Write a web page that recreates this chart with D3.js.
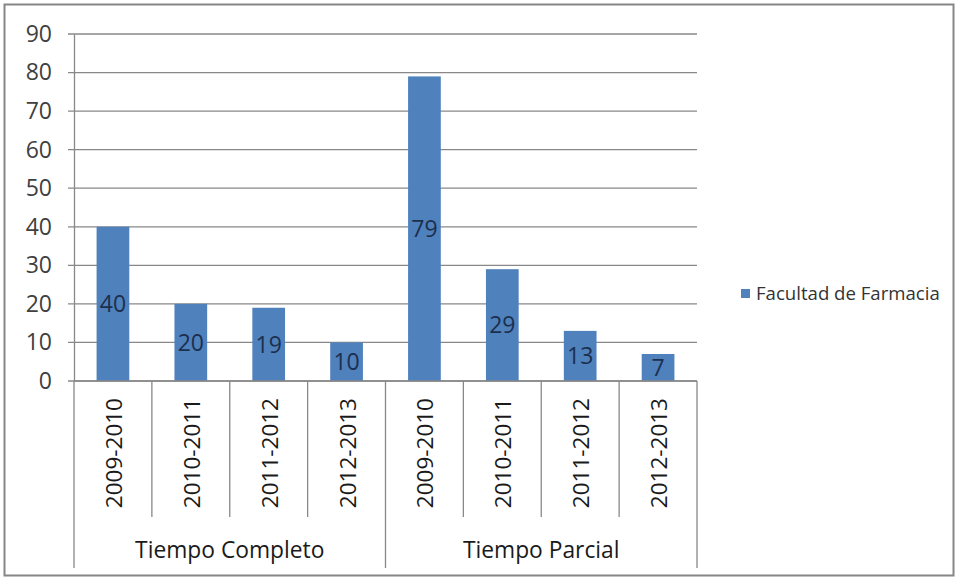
<!DOCTYPE html>
<html>
<head>
<meta charset="utf-8">
<script src="https://cdn.jsdelivr.net/npm/d3@7/dist/d3.min.js"></script>
<style>
body{margin:0;background:#fff;}
svg{display:block;}
text{font-family:"Open Sans",sans-serif;}
</style>
</head>
<body>
<svg id="chart" width="958" height="580"></svg>
<script>
const groups = ["Tiempo Completo", "Tiempo Parcial"];
const periods = ["2009-2010", "2010-2011", "2011-2012", "2012-2013"];
const values = [40, 20, 19, 10, 79, 29, 13, 7];
const yTicks = [0, 10, 20, 30, 40, 50, 60, 70, 80, 90];
const seriesName = "Facultad de Farmacia";

const keys = [];
groups.forEach((g, gi) => periods.forEach((p, pi) => keys.push(gi + "|" + p)));

const svg = d3.select("#chart");
const W = 958, H = 580;
const plotL = 74, plotR = 697, plotT = 34, plotB = 381;
const barColor = "#4f81bd";

svg.append("rect").attr("x", 4.5).attr("y", 4.5).attr("width", W - 9).attr("height", H - 9)
  .attr("fill", "#fff").attr("stroke", "#868686").attr("stroke-width", 2);

const x = d3.scaleBand().domain(keys).range([plotL, plotR]).paddingInner(0.58).paddingOuter(0.29);
const xSlot = d3.scaleBand().domain(keys).range([plotL, plotR]);
const y = d3.scaleLinear().domain([0, 90]).range([plotB, plotT]);

// gridlines
svg.append("g").selectAll("line").data(yTicks).join("line")
  .attr("x1", plotL - 6).attr("x2", plotR)
  .attr("y1", d => y(d)).attr("y2", d => y(d))
  .attr("stroke", "#888").attr("stroke-width", 1.3);

// y axis
const yAxis = d3.axisLeft(y).tickValues(yTicks).tickSize(0).tickPadding(22);
const ya = svg.append("g").attr("transform", `translate(${plotL},0)`).call(yAxis);
ya.select(".domain").attr("stroke", "#888").attr("stroke-width", 1.3);
ya.selectAll("text").attr("font-size", 23).attr("fill", "#404040").attr("font-family", "Open Sans");

// bars
svg.append("g").selectAll("rect").data(values).join("rect")
  .attr("x", (d, i) => x(keys[i])).attr("width", x.bandwidth())
  .attr("y", d => y(d)).attr("height", d => y(0) - y(d))
  .attr("fill", barColor);

// data labels
svg.append("g").selectAll("text").data(values).join("text")
  .attr("x", (d, i) => x(keys[i]) + x.bandwidth() / 2)
  .attr("y", d => (y(d) + y(0)) / 2)
  .attr("dy", "0.36em").attr("text-anchor", "middle")
  .attr("font-size", 23).attr("fill", "#1c2f4d")
  .text(d => d);

// category separators
const sepG = svg.append("g").attr("stroke", "#888").attr("stroke-width", 1.3);
keys.forEach((k, i) => {
  const xp = xSlot(k);
  const isGroup = i % periods.length === 0;
  sepG.append("line").attr("x1", xp).attr("x2", xp).attr("y1", plotB).attr("y2", isGroup ? 568 : 517);
});
sepG.append("line").attr("x1", plotR).attr("x2", plotR).attr("y1", plotB).attr("y2", 568);

// x axis baseline
svg.append("line").attr("x1", plotL).attr("x2", plotR).attr("y1", plotB).attr("y2", plotB)
  .attr("stroke", "#888").attr("stroke-width", 1.3);

// period labels rotated
svg.append("g").selectAll("text").data(keys).join("text")
  .attr("transform", k => `translate(${xSlot(k) + xSlot.bandwidth() / 2 + 9},398) rotate(-90)`)
  .attr("text-anchor", "end").attr("font-size", 22.5).attr("fill", "#1a1a1a")
  .text(k => k.split("|")[1]);

// group labels
svg.append("g").selectAll("text").data(groups).join("text")
  .attr("x", (g, gi) => {
    const a = xSlot(gi + "|" + periods[0]);
    const b = xSlot(gi + "|" + periods[periods.length - 1]) + xSlot.bandwidth();
    return (a + b) / 2;
  })
  .attr("y", 558).attr("text-anchor", "middle").attr("font-size", 22.8).attr("fill", "#1a1a1a")
  .text(g => g);

// legend
const lg = svg.append("g").attr("transform", "translate(741,289)");
lg.append("rect").attr("width", 9).attr("height", 9).attr("fill", barColor);
lg.append("text").attr("x", 15).attr("y", 10.5).attr("font-size", 18.6).attr("fill", "#333").text(seriesName);
</script>
</body>
</html>
